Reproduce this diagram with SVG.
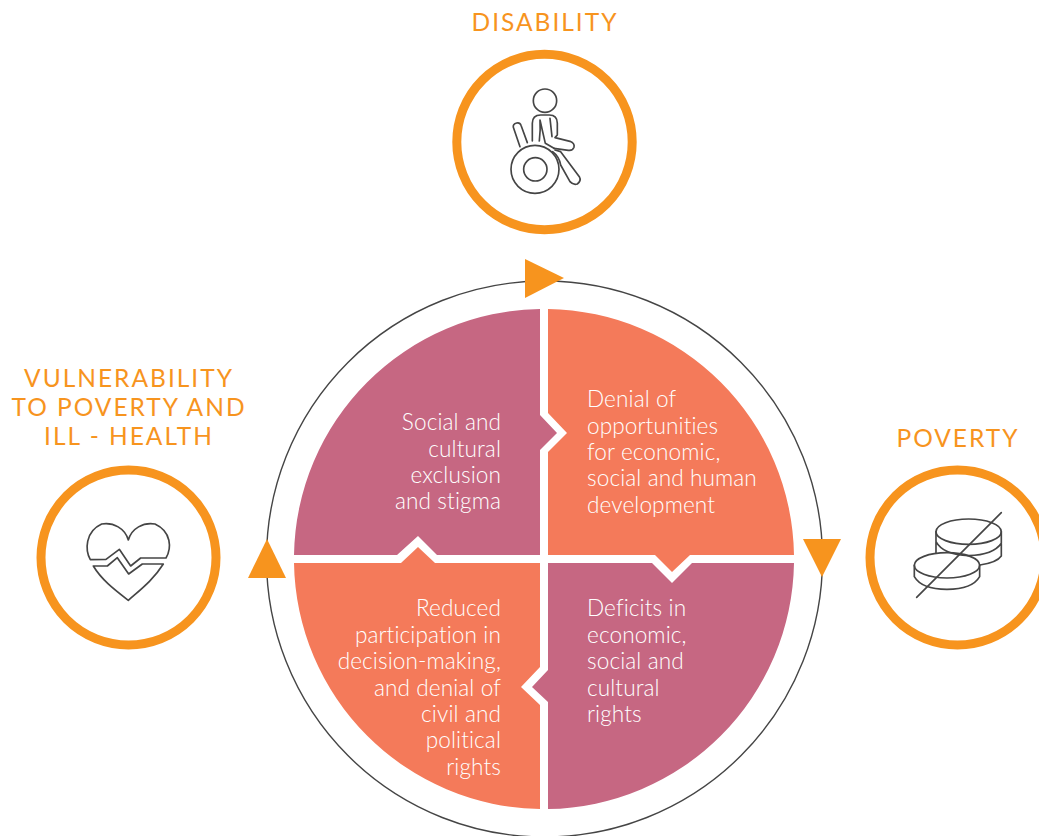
<svg xmlns="http://www.w3.org/2000/svg" width="1039" height="836" viewBox="0 0 1039 836">
<style>
.ring{fill:#fff;stroke:#f7941e;stroke-width:9}
.tri{fill:#f7941e}
.ic{fill:none;stroke:#454545;stroke-width:5;stroke-linejoin:round;stroke-linecap:round}
.h{font-family:"Lato","Liberation Sans",sans-serif;font-size:24.5px;fill:#f7941e;letter-spacing:2px;text-anchor:middle}
.b{font-family:"Lato","Liberation Sans",sans-serif;font-weight:300;font-size:22.6px;letter-spacing:.1px;fill:#fff}
.e{text-anchor:end}
.pink{fill:#c66782}
.or{fill:#f47a5a}
</style>
<rect width="1039" height="836" fill="#fff"/>
<g id="connectors">
<circle cx="544.5" cy="559" r="278" fill="none" stroke="#454545" stroke-width="1.4"/>
<polygon class="tri" points="525,259 564,278 525,298"/>
<polygon class="tri" points="803,539 841,539 822,577"/>
<polygon class="tri" points="267,539 248,578 286,578"/>
</g>
<g id="q-social">
<path class="pink" d="M294,555A250,250 0 0 1 540,309V415L557,433L540,450V555H437L418,536L397,555Z"/>
<text class="b e"><tspan x="501" y="430">Social and</tspan><tspan x="501" y="457">cultural</tspan><tspan x="501" y="483">exclusion</tspan><tspan x="501" y="509">and stigma</tspan></text>
</g>
<g id="q-denial">
<path class="or" d="M548,309A250,250 0 0 1 794,555H690L672,572L655,555H548V452L567,433L548,413Z"/>
<text class="b"><tspan x="587" y="407">Denial of</tspan><tspan x="587" y="434">opportunities</tspan><tspan x="587" y="460">for economic,</tspan><tspan x="587" y="486">social and human</tspan><tspan x="587" y="513">development</tspan></text>
</g>
<g id="q-deficits">
<path class="pink" d="M794,563A250,250 0 0 1 548,809V702L532,687L548,670V563H652L672,583L692,563Z"/>
<text class="b"><tspan x="587" y="616">Deficits in</tspan><tspan x="587" y="643">economic,</tspan><tspan x="587" y="669">social and</tspan><tspan x="587" y="696">cultural</tspan><tspan x="587" y="722">rights</tspan></text>
</g>
<g id="q-reduced">
<path class="or" d="M540,809A250,250 0 0 1 294,563H401L418,547L435,563H540V667L521,687L540,705Z"/>
<text class="b e"><tspan x="501" y="616">Reduced</tspan><tspan x="501" y="643">participation in</tspan><tspan x="501" y="669">decision-making,</tspan><tspan x="501" y="696">and denial of</tspan><tspan x="501" y="722">civil and</tspan><tspan x="501" y="748">political</tspan><tspan x="501" y="775">rights</tspan></text>
</g>
<g id="n-disability">
<text class="h" x="545" y="31">DISABILITY</text>
<circle class="ring" cx="544.5" cy="142" r="87.7"/>
<g transform="translate(440 40) scale(.3333)">
<circle class="ic" cx="315" cy="182" r="35"/>
<circle class="ic" cx="285" cy="388" r="72"/>
<circle class="ic" cx="286" cy="388" r="35"/>
<path class="ic" d="M240,320L220,262Q218,252 230,249Q240,247 243,256L262,308"/>
<path class="ic" d="M277,303V250Q277,225 302,225H328Q352,225 352,250V285L345,293L390,304Q405,310 402,322Q398,333 385,331L342,325"/>
<path class="ic" d="M298,303Q302,270 300,240L316,310L342,325M330,235L336,290"/>
<path class="ic" d="M345,330L362,335L418,410Q425,422 412,432Q400,436 390,425L362,375Q358,350 338,335"/>
</g>
</g>
<g id="n-vulnerability">
<text class="h"><tspan x="129" y="387">VULNERABILITY</tspan><tspan x="129" y="416">TO POVERTY AND</tspan><tspan x="129" y="445">ILL - HEALTH</tspan></text>
<circle class="ring" cx="128.5" cy="557.5" r="87.5"/>
<g transform="translate(30 460) scale(.3333)">
<path class="ic" d="M181,299C165,270 165,215 215,192C250,186 285,205 295,240C305,205 340,186 375,192C425,215 425,265 408,294H332L302,318L268,268L228,298Z"/>
<path class="ic" d="M190,318H232L262,293L296,342L337,312H400C370,360 330,390 295,421C255,390 215,360 190,318Z"/>
</g>
</g>
<g id="n-poverty">
<text class="h" x="958" y="447">POVERTY</text>
<circle class="ring" cx="957.5" cy="557.5" r="87.5"/>
<g transform="translate(790 460) scale(.3333)">
<ellipse class="ic" cx="536" cy="215" rx="98" ry="38"/>
<path class="ic" d="M438,215V278M634,215V288Q620,308 570,315M438,245Q460,285 536,287Q610,285 634,250"/>
<ellipse class="ic" cx="471" cy="316" rx="98" ry="38"/>
<path class="ic" d="M373,316V350Q395,388 471,388Q547,388 569,350V316"/>
<path class="ic" d="M380,412L634,158"/>
</g>
</g>
</svg>
